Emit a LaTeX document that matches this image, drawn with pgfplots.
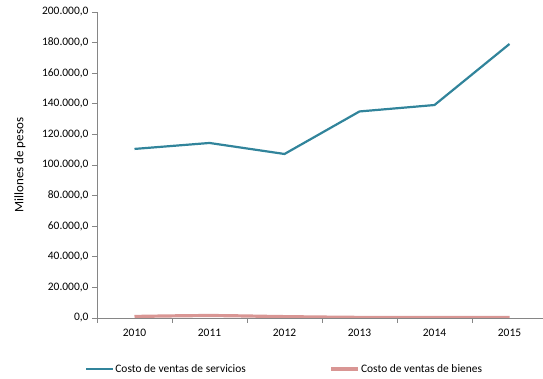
\documentclass[border=0pt]{standalone}
\usepackage{pgfplots}
\pgfplotsset{compat=1.18}
\usepackage{fontspec}
\setmainfont{Carlito}
\definecolor{serv}{HTML}{31849B}
\definecolor{bien}{HTML}{D99694}
\definecolor{axgray}{HTML}{868686}
\begin{document}
\begin{tikzpicture}
\useasboundingbox (0,0) rectangle (543bp,379bp);
\begin{axis}[
  at={(97bp,61bp)}, anchor=south west,
  scale only axis, width=450bp, height=306bp,
  xmin=-0.5, xmax=5.5, ymin=0, ymax=200000,
  axis x line*=bottom, axis y line*=left,
  axis line style={axgray, line width=0.6bp},
  tick style={axgray, line width=0.6bp},
  tick align=outside, major tick length=5bp,
  ytick={0,20000,...,200000},
  scaled y ticks=false,
  yticklabel style={/pgf/number format/.cd, fixed, fixed zerofill, precision=1, 1000 sep={.}, dec sep={,}, assume math mode=true},
  xtick={-0.5,0.5,...,5.5}, xticklabels={},
  extra x ticks={0,1,2,3,4,5},
  extra x tick labels={2010,2011,2012,2013,2014,2015},
  extra x tick style={major tick length=0pt, xticklabel style={yshift=-8bp}},
  ticklabel style={font=\fontsize{11.5}{13}\selectfont, text=black},
  ylabel={Millones de pesos},
  every axis y label/.style={at={(axis description cs:-0.171,0.5)}, rotate=90, anchor=center, font=\fontsize{13}{15}\selectfont},
  legend columns=2,
  legend style={draw=none, at={(axis description cs:-0.0267,-0.1667)}, anchor=west, inner sep=0pt,
    font=\fontsize{11.5}{13}\selectfont, nodes={inner sep=1bp},
    /tikz/every even column/.append style={column sep=83bp}},
  legend image code/.code={\draw[#1] (0bp,0bp) -- (27bp,0bp);},
]
\addplot[serv, line width=2.2bp] coordinates {(0,110500) (1,114400) (2,107200) (3,135000) (4,139200) (5,179100)};
\addlegendentry{Costo de ventas de servicios}
\addplot[bien, line width=3.2bp, smooth] coordinates {(0,1000) (1,1600) (2,900) (3,400) (4,300) (5,300)};
\addlegendentry{Costo de ventas de bienes}
\end{axis}
\end{tikzpicture}
\end{document}
